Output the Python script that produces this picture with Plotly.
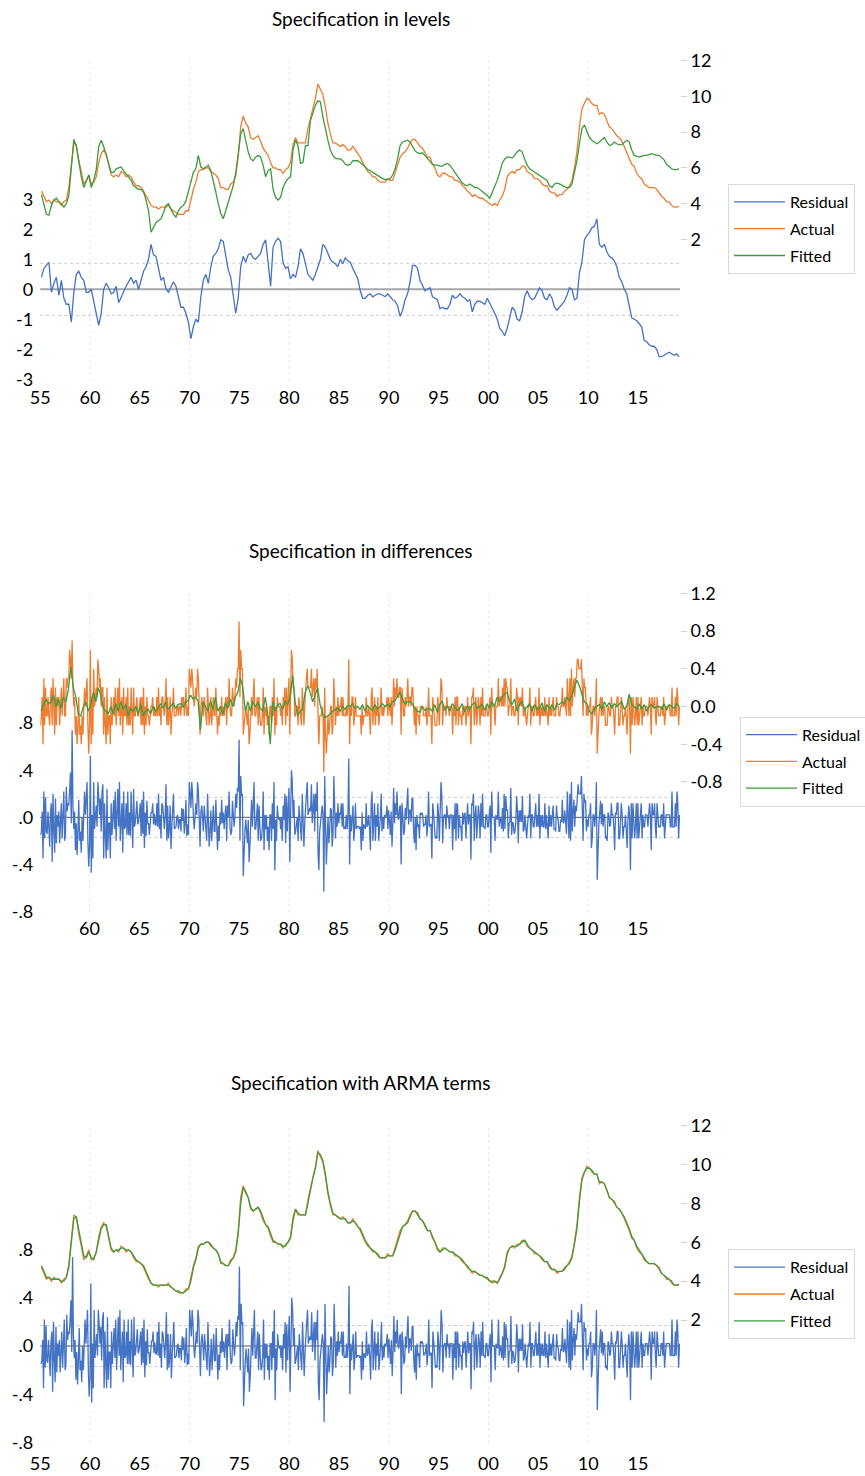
import plotly.graph_objects as go

FONT = "Lato, 'Noto Sans', sans-serif"
BLUE, ORANGE, GREEN = "#4472C4", "#ED7D31", "#3C9B3C"

# ---------------- time axes ----------------
years = list(range(1955, 2020))
quarter_mid = [0.125, 0.375, 0.625, 0.875]
periods_q = [y + m for y in years for m in quarter_mid][:257]          # 1955Q1 .. 2019Q1
months = [y + m / 12 for y in years for m in range(12)]                 # 1955M01 .. 2019M12

xtick_vals = list(range(1955, 2016, 5))
xtick_text = ["55", "60", "65", "70", "75", "80", "85", "90", "95", "00", "05", "10", "15"]
grid_years = [1960, 1970, 1980, 1990, 2000, 2010]

lev_left_ticks = [-3, -2, -1, 0, 1, 2, 3]
lev_right_ticks = [2, 4, 6, 8, 10, 12]
small_left_ticks = [-0.8, -0.4, 0.0, 0.4, 0.8]
small_left_text = ["-.8", "-.4", ".0", ".4", ".8"]
dif_right_ticks = [-0.8, -0.4, 0.0, 0.4, 0.8, 1.2]
dif_right_text = ["-0.8", "-0.4", "0.0", "0.4", "0.8", "1.2"]

se_levels = 0.87
se_diff = 0.17
se_arma = 0.17

# ---------------- quarterly level series ----------------
actual = [
    4.7, 4.4, 4.1, 4.2, 4.0, 4.2, 4.1, 4.1, 3.9, 4.1, 4.2, 4.9, 6.3, 7.4, 7.3, 6.4, 5.8, 5.1, 5.3, 5.6,
    5.1, 5.2, 5.5, 6.3, 6.8, 7.0, 6.8, 6.2, 5.6, 5.5, 5.6, 5.5, 5.8, 5.7, 5.5, 5.6, 5.5, 5.2, 5.0, 5.0,
    4.9, 4.7, 4.4, 4.1, 3.9, 3.8, 3.8, 3.7, 3.8, 3.8, 3.8, 3.9, 3.7, 3.6, 3.5, 3.4, 3.4, 3.4, 3.6, 3.6,
    4.2, 4.8, 5.2, 5.8, 5.9, 5.9, 6.0, 6.0, 5.8, 5.7, 5.6, 5.4, 4.9, 4.9, 4.8, 4.8, 5.1, 5.2, 5.6, 6.6,
    8.3, 8.9, 8.5, 8.3, 7.7, 7.6, 7.7, 7.8, 7.5, 7.1, 6.9, 6.7, 6.3, 6.0, 6.0, 5.9, 5.9, 5.7, 5.9, 6.0,
    6.3, 7.3, 7.7, 7.4, 7.4, 7.4, 7.4, 8.2, 8.8, 9.4, 9.9, 10.7, 10.4, 10.1, 9.4, 8.5, 7.9, 7.4, 7.4, 7.3,
    7.2, 7.3, 7.2, 7.0, 7.0, 7.2, 7.0, 6.8, 6.6, 6.3, 6.0, 5.8, 5.7, 5.5, 5.5, 5.3, 5.2, 5.2, 5.2, 5.4,
    5.3, 5.3, 5.7, 6.1, 6.6, 6.8, 6.9, 7.1, 7.4, 7.6, 7.6, 7.4, 7.2, 7.1, 6.8, 6.6, 6.6, 6.2, 6.0, 5.6,
    5.5, 5.7, 5.7, 5.6, 5.5, 5.5, 5.3, 5.3, 5.2, 5.0, 4.9, 4.7, 4.6, 4.4, 4.5, 4.4, 4.3, 4.3, 4.2, 4.1,
    4.0, 3.9, 4.0, 3.9, 4.2, 4.4, 4.8, 5.5, 5.7, 5.8, 5.7, 5.9, 5.9, 6.1, 6.1, 5.8, 5.7, 5.6, 5.4, 5.4,
    5.3, 5.1, 5.0, 5.0, 4.7, 4.6, 4.6, 4.4, 4.5, 4.5, 4.7, 4.8, 5.0, 5.3, 6.0, 6.9, 8.3, 9.3, 9.6, 9.9,
    9.8, 9.6, 9.5, 9.5, 9.0, 9.1, 9.0, 8.6, 8.3, 8.2, 8.0, 7.8, 7.7, 7.5, 7.2, 6.9, 6.6, 6.2, 6.1, 5.7,
    5.5, 5.4, 5.1, 5.0, 4.9, 4.9, 4.9, 4.8, 4.6, 4.4, 4.3, 4.1, 4.1, 3.9, 3.8, 3.8, 3.85,
]

fitted_levels = [
    4.5, 3.9, 3.4, 3.35, 3.9, 4.2, 4.3, 4.1, 4.0, 3.8, 4.0, 4.45, 6.05, 7.6, 7.2, 6.2, 5.5, 4.9, 5.2, 5.6,
    4.9, 5.3, 5.9, 7.2, 7.55, 7.2, 6.7, 6.15, 5.75, 5.75, 5.95, 6.0, 6.05, 5.85, 5.65, 5.5, 5.3, 5.0, 4.9, 4.8,
    4.8, 4.65, 4.2, 3.6, 2.4, 2.7, 2.95, 3.05, 3.15, 3.5, 3.9, 4.0, 3.7, 3.4, 3.25, 3.6, 3.8, 3.9, 4.15, 4.65,
    5.3, 5.75, 5.95, 6.7, 6.05, 5.95, 6.05, 6.15, 5.85, 5.3, 4.65, 4.0, 3.45, 3.15, 3.6, 4.1, 4.55, 5.0, 5.7, 6.8,
    7.9, 8.2, 7.6, 6.9, 6.5, 6.4, 6.6, 6.7, 6.6, 6.15, 5.5, 5.85, 5.95, 4.8, 4.35, 4.2, 4.35, 4.9, 5.2, 5.4,
    5.5, 7.0, 7.55, 7.25, 6.25, 6.3, 7.25, 7.25, 8.65, 9.1, 9.5, 9.75, 9.7, 8.85, 8.1, 7.55, 7.0, 6.7, 6.55, 6.5,
    6.5, 6.4, 6.2, 6.15, 6.2, 6.4, 6.4, 6.4, 6.3, 6.2, 6.05, 5.9, 5.85, 5.75, 5.65, 5.6, 5.45, 5.4, 5.35, 5.35,
    5.4, 5.6, 5.95, 6.5, 7.25, 7.45, 7.5, 7.55, 7.45, 7.2, 6.95, 6.85, 6.8, 6.85, 6.7, 6.55, 6.4, 6.2, 6.15, 6.15,
    6.1, 6.1, 6.2, 6.25, 6.15, 5.95, 5.75, 5.6, 5.35, 5.15, 5.05, 5.0, 5.1, 5.0, 4.9, 4.9, 4.8, 4.65, 4.55, 4.45,
    4.3, 4.6, 4.9, 5.3, 5.75, 6.25, 6.5, 6.6, 6.6, 6.55, 6.7, 6.9, 7.0, 6.9, 6.5, 6.15, 5.95, 5.85, 5.75, 5.65,
    5.6, 5.5, 5.4, 5.3, 5.0, 4.9, 5.1, 5.15, 5.1, 5.0, 4.95, 4.9, 4.9, 5.1, 5.7, 6.4, 7.35, 8.2, 8.4, 8.0,
    7.7, 7.55, 7.45, 7.35, 7.45, 7.6, 7.7, 7.45, 7.25, 7.3, 7.45, 7.35, 7.3, 7.3, 7.45, 7.55, 7.45, 7.0, 6.7, 6.65,
    6.6, 6.65, 6.7, 6.7, 6.75, 6.8, 6.75, 6.7, 6.7, 6.6, 6.45, 6.2, 6.05, 5.95, 5.9, 5.9, 5.95,
]

residual_levels = [
    0.4, 0.7, 0.8, 0.9, -0.1, 0.2, 0.4, -0.2, 0.3, -0.3, -0.5, -0.5, -1.1, -0.1, 0.5, 0.6, 0.4, 0.3, -0.1, -0.1,
    0.0, -0.45, -0.8, -1.2, -0.8, 0.0, 0.2, 0.05, -0.15, -0.1, 0.1, -0.45, -0.25, -0.05, 0.1, 0.25, 0.4, 0.2, 0.3, 0.0,
    0.3, 0.6, 0.75, 1.0, 1.5, 1.15, 1.1, 0.7, 0.3, 0.4, 0.0, -0.1, 0.05, 0.25, 0.1, -0.3, -0.6, -0.6, -0.8, -1.1,
    -1.65, -1.25, -1.0, -1.1, -0.25, 0.3, 0.5, 0.2, 0.75, 1.1, 1.2, 1.35, 1.65, 1.6, 1.1, 0.65, 0.4, -0.25, -0.8, -0.3,
    0.75, 1.1, 0.9, 1.15, 1.2, 1.05, 1.0, 1.1, 1.2, 1.5, 1.65, 0.9, 0.1, 1.4, 1.6, 1.7, 1.6, 0.9, 0.7, 0.75,
    0.35, 0.5, 0.4, 0.75, 1.35, 1.2, 0.85, 0.5, 0.4, 0.3, 0.5, 0.75, 1.0, 1.5, 1.4, 1.2, 1.0, 0.9, 0.85, 0.75,
    1.0, 0.85, 1.05, 0.95, 0.9, 0.7, 0.55, 0.35, -0.05, -0.3, -0.3, -0.2, -0.15, -0.25, -0.2, -0.15, -0.15, -0.2, -0.25, -0.15,
    -0.25, -0.35, -0.4, -0.55, -0.9, -0.7, -0.35, -0.15, 0.25, 0.8, 0.8, 0.7, 0.3, 0.1, -0.05, 0.0, 0.05, -0.25, -0.3, -0.35,
    -0.65, -0.6, -0.65, -0.65, -0.5, -0.2, -0.3, -0.25, -0.15, -0.25, -0.3, -0.4, -0.35, -0.75, -0.5, -0.4, -0.4, -0.45, -0.5, -0.3,
    -0.45, -0.6, -0.8, -1.0, -1.3, -1.4, -1.55, -1.3, -0.9, -0.6, -0.7, -1.0, -1.05, -0.75, -0.25, -0.05, -0.25, -0.35, -0.3, -0.15,
    0.05, -0.05, -0.3, -0.35, -0.15, -0.3, -0.6, -0.7, -0.6, -0.5, -0.4, -0.2, 0.05, 0.0, -0.35, -0.3, 0.55, 0.9, 1.65, 1.8,
    1.9, 2.05, 2.1, 2.35, 1.5, 1.4, 1.5, 1.25, 1.1, 1.05, 0.95, 0.75, 0.4, 0.25, 0.0, -0.15, -0.6, -0.95, -1.0, -1.05,
    -1.15, -1.25, -1.7, -1.75, -1.85, -1.9, -1.9, -2.0, -2.25, -2.25, -2.2, -2.15, -2.1, -2.15, -2.2, -2.15, -2.25,
]

fitted_arma = [
    4.8, 4.5, 4.2, 4.2, 4.1, 4.1, 4.1, 4.1, 4.0, 4.0, 4.2, 4.7, 6.0, 7.2, 7.3, 6.6, 5.9, 5.3, 5.2, 5.5,
    5.2, 5.1, 5.5, 6.1, 6.7, 6.9, 6.9, 6.3, 5.7, 5.5, 5.6, 5.6, 5.7, 5.7, 5.6, 5.6, 5.5, 5.3, 5.1, 5.0,
    4.9, 4.8, 4.5, 4.2, 3.9, 3.8, 3.8, 3.8, 3.8, 3.8, 3.8, 3.8, 3.7, 3.6, 3.5, 3.5, 3.4, 3.4, 3.5, 3.6,
    4.0, 4.7, 5.1, 5.7, 5.9, 5.9, 6.0, 6.0, 5.9, 5.7, 5.6, 5.4, 5.0, 4.9, 4.8, 4.8, 5.0, 5.2, 5.5, 6.4,
    8.0, 8.8, 8.6, 8.3, 7.8, 7.6, 7.7, 7.8, 7.6, 7.2, 6.9, 6.8, 6.4, 6.1, 6.0, 5.9, 5.9, 5.8, 5.8, 6.0,
    6.2, 7.1, 7.7, 7.5, 7.4, 7.4, 7.4, 8.0, 8.7, 9.3, 9.8, 10.6, 10.5, 10.2, 9.5, 8.6, 8.0, 7.5, 7.4, 7.3,
    7.2, 7.2, 7.2, 7.0, 7.0, 7.1, 7.0, 6.8, 6.7, 6.4, 6.1, 5.9, 5.7, 5.6, 5.5, 5.4, 5.2, 5.2, 5.2, 5.3,
    5.3, 5.3, 5.6, 6.0, 6.5, 6.8, 6.9, 7.0, 7.3, 7.6, 7.6, 7.5, 7.2, 7.1, 6.9, 6.6, 6.6, 6.3, 6.0, 5.7,
    5.5, 5.6, 5.7, 5.6, 5.5, 5.5, 5.4, 5.3, 5.2, 5.1, 4.9, 4.8, 4.6, 4.5, 4.5, 4.4, 4.3, 4.3, 4.2, 4.2,
    4.0, 4.0, 4.0, 3.9, 4.1, 4.4, 4.7, 5.4, 5.7, 5.8, 5.8, 5.8, 5.9, 6.0, 6.1, 5.9, 5.7, 5.6, 5.5, 5.4,
    5.3, 5.2, 5.0, 5.0, 4.8, 4.6, 4.6, 4.5, 4.5, 4.5, 4.6, 4.8, 4.9, 5.2, 5.9, 6.7, 8.1, 9.2, 9.6, 9.8,
    9.8, 9.7, 9.5, 9.5, 9.1, 9.1, 9.0, 8.7, 8.3, 8.2, 8.1, 7.8, 7.7, 7.5, 7.3, 7.0, 6.7, 6.3, 6.1, 5.8,
    5.6, 5.4, 5.2, 5.0, 4.9, 4.9, 4.9, 4.8, 4.7, 4.4, 4.3, 4.2, 4.1, 4.0, 3.8, 3.8, 3.8,
]

# ---------------- differences (monthly actual & residual, quarterly fitted) ----------------
actual_diff = [
    -0.2, -0.1, 0.1, -0.4, 0.3, -0.2, 0.2, -0.1, -0.1, 0.1, -0.1,                 # 1955 (Feb-Dec)
    -0.2, 0.1, 0.2, -0.2, 0.3, 0.0, -0.3, 0.2, -0.2, 0.1, 0.0, 0.1,               # 1956
    -0.2, 0.0, 0.2, -0.1, 0.1, 0.3, -0.1, -0.1, 0.3, 0.2, 0.3, 0.3,
    0.6, 0.5, 0.3, 0.7, 0.2, 0.0, 0.1, -0.3, -0.1, -0.4, -0.2, 0.1,
    -0.3, -0.2, -0.4, -0.1, -0.3, -0.1, 0.2, 0.0, 0.2, 0.3, -0.2, -0.5,
    -0.2, 0.6, -0.4, 0.1, -0.3, 0.4, 0.0, 0.1, 0.2, 0.1, 0.5, 0.4,               # 1960
    0.2, 0.3, 0.0, 0.2, 0.2, -0.3, 0.1, -0.2, -0.4, 0.2, -0.3, -0.1,
    -0.1, -0.4, 0.1, -0.2, 0.0, 0.1, -0.1, 0.2, -0.2, 0.0, 0.2, -0.1,
    0.3, -0.2, 0.0, 0.1, -0.3, 0.2, -0.1, -0.1, 0.1, -0.2, 0.2, -0.2,
    0.0, -0.2, 0.2, -0.1, -0.3, 0.2, -0.1, -0.1, 0.0, 0.1, -0.1, -0.1,
    0.0, 0.1, -0.2, 0.1, -0.2, 0.2, -0.3, 0.0, -0.2, 0.1, -0.1, -0.1,            # 1965
    -0.2, -0.1, 0.0, 0.0, 0.1, -0.1, 0.0, -0.1, -0.1, 0.1, -0.1, 0.2,
    -0.1, 0.0, -0.2, 0.1, 0.1, 0.0, -0.1, 0.0, 0.3, -0.2, 0.1, -0.2,
    -0.1, 0.1, -0.3, -0.1, 0.0, 0.2, -0.1, -0.1, -0.1, 0.0, 0.0, -0.1,
    0.0, 0.0, -0.1, 0.1, 0.0, 0.1, -0.1, 0.0, 0.2, -0.1, 0.0, -0.1,
    0.4, 0.3, 0.2, 0.4, 0.3, 0.1, 0.0, 0.1, 0.2, 0.1, 0.4, 0.3,                   # 1970
    -0.1, -0.3, 0.0, 0.1, 0.0, -0.1, 0.1, 0.0, -0.1, -0.2, 0.2, 0.0,
    -0.2, -0.1, 0.1, -0.2, 0.0, 0.1, -0.1, -0.1, 0.2, -0.1, -0.3, -0.1,
    -0.2, 0.0, -0.1, 0.1, -0.1, 0.0, -0.1, 0.0, 0.1, -0.2, 0.1, 0.0,
    0.3, 0.0, -0.1, -0.1, 0.2, 0.1, 0.0, 0.1, 0.3, 0.2, 0.4, 0.4,
    0.9, 0.1, 0.6, 0.4, 0.4, -0.3, -0.2, -0.1, 0.0, -0.1, -0.2, 0.0,             # 1975
    -0.4, -0.3, -0.1, 0.1, -0.1, 0.1, 0.3, -0.1, -0.1, 0.0, 0.1, -0.2,
    0.1, -0.1, -0.2, -0.2, -0.1, 0.2, -0.3, 0.0, -0.1, 0.0, -0.2, -0.1,
    -0.3, 0.0, 0.0, -0.2, 0.1, -0.1, 0.3, -0.3, 0.0, -0.2, 0.1, 0.0,
    0.0, 0.0, -0.1, 0.0, -0.2, 0.1, 0.0, 0.2, -0.2, 0.2, -0.1, 0.1,
    0.3, -0.3, 0.1, 0.6, 0.5, 0.2, 0.2, -0.1, -0.1, 0.0, 0.0, -0.2,              # 1980
    0.1, 0.0, -0.1, -0.2, 0.2, -0.1, -0.2, 0.0, 0.2, 0.3, 0.4, 0.2,
    0.2, 0.2, 0.2, 0.4, 0.1, 0.2, 0.3, 0.0, 0.3, 0.2, 0.4, -0.1,
    -0.4, -0.1, -0.1, -0.1, 0.0, -0.1, -0.7, 0.2, -0.3, -0.5, -0.3, -0.1,
    -0.3, -0.2, 0.0, 0.0, -0.3, -0.2, 0.3, 0.0, -0.2, 0.0, -0.1, 0.1,
    -0.1, 0.0, 0.0, 0.1, -0.1, 0.1, -0.1, -0.1, -0.1, 0.0, -0.1, 0.0,            # 1985
    0.5, -0.4, 0.0, -0.1, 0.1, 0.1, -0.2, -0.1, 0.1, -0.1, -0.1, -0.1,
    -0.1, -0.1, -0.1, -0.3, 0.0, -0.2, -0.1, -0.1, -0.1, 0.1, -0.1, -0.1,
    0.0, -0.1, -0.3, 0.1, 0.2, -0.2, 0.0, 0.1, -0.2, 0.0, -0.1, 0.1,
    -0.2, -0.1, 0.0, 0.2, -0.1, 0.0, -0.1, 0.0, 0.0, 0.0, 0.1, -0.1,
    0.1, 0.0, -0.1, 0.1, -0.2, 0.0, 0.3, 0.0, 0.2, 0.1, 0.3, 0.1,                 # 1990
    0.1, 0.2, 0.2, -0.3, 0.2, 0.1, -0.1, -0.1, 0.1, 0.0, 0.1, 0.3,
    0.0, 0.1, 0.1, 0.0, 0.2, 0.2, -0.1, -0.2, 0.0, -0.3, 0.0, -0.1,
    -0.1, -0.2, 0.0, 0.0, 0.0, 0.0, -0.1, -0.1, -0.1, 0.0, -0.2, -0.1,
    0.2, -0.1, -0.1, -0.1, -0.4, 0.1, 0.0, -0.1, -0.2, -0.2, -0.2, 0.1,
    0.0, -0.2, 0.0, 0.3, 0.2, -0.2, 0.0, 0.0, 0.0, -0.1, 0.1, 0.0,                # 1995
    0.0, -0.1, 0.0, 0.0, 0.0, -0.3, 0.0, -0.1, 0.1, -0.2, 0.1, 0.1,
    -0.2, 0.0, -0.1, -0.1, -0.2, 0.0, -0.1, 0.0, 0.0, -0.2, -0.1, 0.1,
    -0.1, 0.0, 0.0, -0.4, 0.1, 0.1, 0.2, -0.2, 0.0, 0.1, -0.2, 0.0,
    0.1, 0.0, -0.2, 0.1, -0.1, 0.2, -0.1, -0.1, -0.1, 0.0, 0.0, -0.1,
    -0.1, 0.0, 0.1, -0.3, 0.2, 0.0, 0.0, 0.0, -0.2, 0.0, 0.0, 0.0,               # 2000
    0.3, 0.0, 0.1, 0.1, 0.0, 0.2, 0.0, 0.3, 0.0, 0.3, 0.2, 0.2,
    -0.1, 0.0, 0.0, 0.3, -0.1, 0.0, 0.0, -0.1, -0.1, 0.0, 0.2, 0.1,
    -0.2, 0.1, 0.0, 0.1, 0.0, 0.2, -0.1, -0.1, 0.0, -0.1, -0.2, -0.1,
    0.0, 0.0, 0.2, -0.2, 0.0, 0.0, -0.1, -0.1, 0.0, 0.1, -0.1, 0.0,
    -0.1, 0.2, -0.2, 0.0, -0.1, 0.0, -0.1, -0.1, 0.1, -0.1, 0.0, -0.1,           # 2005
    -0.2, 0.1, -0.1, 0.0, -0.1, 0.0, 0.1, -0.1, -0.1, -0.1, 0.1, 0.0,
    0.0, -0.1, -0.1, 0.0, 0.0, 0.2, 0.0, 0.0, 0.1, 0.0, -0.1, 0.3,
    0.0, -0.1, 0.3, -0.1, 0.4, 0.0, 0.2, 0.3, 0.1, 0.3, 0.3, 0.5,
    0.5, 0.4, 0.4, 0.4, 0.5, 0.1, -0.1, 0.3, 0.2, 0.2, -0.1, 0.0,
    -0.1, 0.0, 0.0, 0.1, -0.3, -0.2, 0.0, 0.0, -0.1, 0.0, 0.3, -0.5,             # 2010
    -0.2, -0.1, 0.0, 0.1, -0.1, 0.1, -0.1, 0.0, 0.0, -0.2, -0.2, -0.2,
    0.0, 0.0, -0.1, -0.1, 0.1, 0.0, 0.0, -0.1, -0.3, 0.0, 0.0, 0.1,
    0.1, -0.2, -0.2, 0.0, 0.1, 0.0, -0.2, -0.1, -0.1, 0.0, -0.2, -0.3,
    0.0, 0.1, 0.0, -0.5, 0.1, -0.2, 0.1, -0.1, -0.2, -0.1, 0.1, -0.2,
    0.1, -0.2, -0.1, 0.0, 0.1, -0.2, 0.0, -0.1, -0.1, 0.0, 0.0, 0.0,             # 2015
    -0.1, 0.0, 0.1, 0.0, -0.3, 0.1, 0.0, 0.0, 0.1, -0.1, -0.2, 0.1,
    0.0, -0.1, -0.1, -0.1, 0.0, 0.0, -0.1, 0.1, -0.2, -0.1, 0.0, 0.0,
    0.0, 0.0, 0.0, -0.1, -0.1, 0.2, -0.1, -0.1, -0.1, 0.1, -0.1, 0.2,
    0.1, -0.2, 0.0,                                                               # 2019 (Jan-Mar)
]

residual_diff = [
    -0.15, -0.12, 0.05, -0.35, 0.22, -0.18, 0.17, -0.12, -0.14, 0.05, -0.08,      # 1955 (Feb-Dec)
    -0.25, 0.04, 0.12, -0.38, 0.2, -0.1, -0.3, 0.16, -0.22, 0.02, -0.08, 0.05,
    -0.22, -0.05, 0.12, -0.18, 0.02, 0.22, -0.2, -0.15, 0.26, 0.05, 0.12, 0.1,
    0.22, 0.38, -0.05, 0.74, 0.1, -0.1, 0.05, -0.28, -0.05, -0.32, -0.12, 0.15,
    -0.2, -0.12, -0.3, 0.0, -0.2, -0.05, 0.22, 0.02, 0.2, 0.3, -0.2, -0.42,
    -0.25, 0.52, -0.47, 0.02, -0.35, 0.3, -0.1, 0.0, 0.1, -0.08, 0.3, 0.18,      # 1960
    0.02, 0.16, -0.12, 0.22, 0.28, -0.35, 0.12, -0.15, -0.35, 0.24, -0.28, -0.05,
    -0.05, -0.35, 0.12, -0.15, 0.06, 0.15, -0.1, 0.22, -0.2, 0.04, 0.24, -0.08,
    0.3, -0.2, 0.02, 0.12, -0.3, 0.22, -0.1, -0.08, 0.12, -0.15, 0.22, -0.15,
    0.04, -0.16, 0.22, -0.06, -0.26, 0.24, -0.08, -0.05, 0.04, 0.14, -0.06, -0.04,
    0.04, 0.12, -0.16, 0.15, -0.14, 0.22, -0.26, 0.04, -0.16, 0.14, -0.06, -0.05,  # 1965
    -0.15, -0.06, 0.04, 0.04, 0.12, -0.06, 0.03, -0.06, -0.07, 0.12, -0.08, 0.2,
    -0.1, 0.02, -0.18, 0.12, 0.1, 0.01, -0.1, 0.02, 0.28, -0.2, 0.1, -0.18,
    -0.1, 0.1, -0.27, -0.08, 0.02, 0.2, -0.1, -0.09, -0.08, 0.0, 0.02, -0.1,
    -0.02, -0.02, -0.12, 0.08, -0.03, 0.07, -0.14, -0.05, 0.15, -0.16, -0.06, -0.15,
    0.3, 0.2, 0.08, 0.3, 0.2, 0.0, -0.1, 0.0, 0.12, 0.02, 0.3, 0.22,              # 1970
    -0.05, -0.25, 0.04, 0.1, 0.01, -0.12, 0.1, -0.02, -0.12, -0.2, 0.2, -0.02,
    -0.25, -0.12, 0.06, -0.2, 0.02, 0.1, -0.12, -0.12, 0.15, -0.08, -0.28, -0.07,
    -0.2, 0.04, -0.06, 0.15, -0.05, 0.04, -0.1, 0.02, 0.1, -0.2, 0.1, 0.0,
    0.22, -0.08, -0.15, -0.12, 0.14, 0.02, -0.08, 0.02, 0.2, 0.08, 0.25, 0.22,
    0.66, -0.2, 0.35, 0.18, 0.2, -0.5, -0.25, -0.12, -0.02, -0.1, -0.22, -0.02,  # 1975
    -0.38, -0.25, -0.05, 0.15, -0.08, 0.12, 0.3, -0.1, -0.1, 0.0, 0.12, -0.2,
    0.1, -0.08, -0.2, -0.18, -0.08, 0.22, -0.28, 0.02, -0.1, 0.02, -0.2, -0.08,
    -0.28, 0.02, 0.02, -0.2, 0.12, -0.1, 0.3, -0.45, -0.02, -0.2, 0.1, 0.0,
    -0.02, 0.0, -0.1, 0.0, -0.2, 0.1, -0.02, 0.2, -0.22, 0.18, -0.12, 0.08,
    0.25, -0.38, 0.05, 0.4, 0.3, 0.0, 0.15, -0.15, -0.12, -0.02, 0.0, -0.2,      # 1980
    0.1, 0.0, -0.1, -0.2, 0.2, -0.12, -0.25, -0.05, 0.12, 0.2, 0.3, 0.02,
    0.05, 0.08, 0.05, 0.28, -0.05, 0.08, 0.2, -0.12, 0.2, 0.05, 0.3, -0.3,
    -0.45, -0.12, -0.05, -0.02, 0.1, 0.02, -0.63, 0.35, -0.2, -0.4, -0.2, 0.0,
    -0.22, -0.12, 0.08, 0.06, -0.25, -0.15, 0.35, 0.05, -0.18, 0.04, -0.08, 0.12,
    -0.05, 0.04, 0.02, 0.12, -0.08, 0.12, -0.1, -0.08, -0.1, 0.02, -0.1, 0.02,   # 1985
    0.5, -0.4, 0.02, -0.12, 0.08, 0.1, -0.2, -0.1, 0.12, -0.1, -0.08, -0.08,
    -0.08, -0.1, -0.08, -0.28, 0.04, -0.2, -0.06, -0.08, -0.1, 0.12, -0.08, -0.06,
    0.02, -0.1, -0.28, 0.12, 0.22, -0.2, 0.04, 0.12, -0.2, 0.02, -0.08, 0.12,
    -0.2, -0.1, 0.0, 0.2, -0.12, 0.0, -0.1, 0.02, 0.0, 0.02, 0.1, -0.1,
    0.06, -0.04, -0.15, 0.05, -0.25, -0.05, 0.25, -0.05, 0.12, 0.02, 0.22, 0.0,  # 1990
    -0.02, 0.08, 0.1, -0.4, 0.12, 0.02, -0.15, -0.12, 0.08, -0.02, 0.08, 0.25,
    -0.06, 0.06, 0.06, -0.04, 0.16, 0.16, -0.12, -0.22, 0.0, -0.28, 0.02, -0.08,
    -0.06, -0.18, 0.04, 0.02, 0.04, 0.02, -0.08, -0.06, -0.06, 0.02, -0.16, -0.06,
    0.22, -0.08, -0.06, -0.06, -0.35, 0.12, 0.04, -0.06, -0.18, -0.16, -0.18, 0.12,
    0.02, -0.2, 0.02, 0.3, 0.18, -0.22, 0.0, 0.02, 0.02, -0.1, 0.1, 0.0,          # 1995
    0.02, -0.1, 0.02, 0.02, 0.02, -0.28, 0.02, -0.1, 0.12, -0.2, 0.12, 0.1,
    -0.18, 0.02, -0.08, -0.08, -0.2, 0.04, -0.06, 0.02, 0.04, -0.18, -0.06, 0.12,
    -0.06, 0.02, 0.02, -0.36, 0.12, 0.1, 0.2, -0.2, 0.02, 0.1, -0.18, 0.02,
    0.1, 0.02, -0.18, 0.12, -0.08, 0.2, -0.08, -0.08, -0.1, 0.02, 0.02, -0.08,
    -0.08, 0.02, 0.1, -0.3, 0.22, 0.0, 0.0, 0.0, -0.2, 0.02, 0.0, -0.02,          # 2000
    0.22, -0.08, 0.0, -0.02, -0.1, 0.08, -0.12, 0.2, -0.1, 0.18, 0.06, 0.06,
    -0.18, -0.05, -0.04, 0.25, -0.15, -0.04, -0.05, -0.14, -0.12, -0.04, 0.18, 0.06,
    -0.22, 0.06, -0.04, 0.06, -0.04, 0.18, -0.12, -0.1, 0.02, -0.1, -0.18, -0.08,
    0.02, 0.0, 0.2, -0.18, 0.02, 0.02, -0.08, -0.08, 0.02, 0.12, -0.08, 0.02,
    -0.08, 0.2, -0.18, 0.02, -0.08, 0.02, -0.08, -0.08, 0.12, -0.1, 0.02, -0.08,  # 2005
    -0.18, 0.1, -0.08, 0.02, -0.08, 0.02, 0.1, -0.1, -0.1, -0.12, 0.1, 0.0,
    -0.02, -0.12, -0.12, -0.02, -0.04, 0.15, -0.05, -0.04, 0.06, -0.04, -0.14, 0.22,
    -0.06, -0.18, 0.2, -0.2, 0.3, -0.12, 0.05, 0.15, -0.08, 0.1, 0.05, 0.25,
    0.28, 0.2, 0.2, 0.2, 0.35, -0.05, -0.2, 0.2, 0.12, 0.15, -0.12, -0.02,
    -0.08, 0.02, 0.02, 0.12, -0.26, -0.18, 0.02, 0.02, -0.08, 0.02, 0.3, -0.53,  # 2010
    -0.18, -0.06, 0.04, 0.14, -0.06, 0.12, -0.08, 0.02, 0.02, -0.18, -0.16, -0.2,
    0.04, 0.02, -0.08, -0.06, 0.12, 0.02, 0.02, -0.08, -0.28, 0.04, 0.02, 0.12,
    0.12, -0.18, -0.18, 0.04, 0.12, 0.02, -0.18, -0.08, -0.08, 0.02, -0.18, -0.26,
    -0.02, 0.1, 0.0, -0.45, 0.12, -0.18, 0.12, -0.08, -0.18, -0.08, 0.12, -0.18,
    0.12, -0.18, -0.08, 0.02, 0.12, -0.18, 0.02, -0.08, -0.08, 0.02, 0.02, 0.02,  # 2015
    -0.08, 0.02, 0.12, 0.02, -0.28, 0.12, 0.02, 0.02, 0.12, -0.08, -0.18, 0.12,
    0.02, -0.08, -0.08, -0.08, 0.02, 0.02, -0.08, 0.12, -0.18, -0.08, 0.02, 0.02,
    0.02, 0.02, 0.02, -0.08, -0.08, 0.22, -0.08, -0.08, -0.08, 0.12, -0.08, 0.22,
    0.12, -0.18, 0.02,                                                            # 2019 (Jan-Mar)
]

fitted_diff = [
    -0.05, 0.02, 0.08, 0.03, 0.05, 0.12, 0.0, 0.08, -0.02, 0.1, 0.05, 0.18, 0.42, 0.2, 0.1, -0.08, -0.1, 0.0, 0.05, -0.05,
    0.02, 0.15, 0.05, 0.2, 0.12, -0.02, -0.05, -0.08, 0.0, -0.08, 0.03, -0.05, 0.05, -0.03, 0.02, -0.1, -0.02, -0.05, 0.0, -0.08,
    0.02, -0.1, -0.05, -0.03, -0.08, 0.0, -0.05, -0.02, 0.03, -0.02, 0.05, -0.03, 0.0, 0.04, -0.02, 0.02, 0.03, -0.01, 0.05, 0.06,
    0.12, 0.08, 0.1, 0.06, -0.25, 0.05, 0.0, -0.05, 0.06, -0.03, 0.1, -0.05, 0.0, -0.08, 0.04, -0.02, 0.08, 0.0, 0.1, 0.15,
    0.3, 0.2, -0.05, 0.05, -0.05, 0.05, 0.0, 0.04, -0.02, -0.05, 0.1, -0.08, -0.4, 0.05, -0.05, 0.02, 0.03, -0.03, 0.06, 0.02,
    0.1, 0.33, 0.05, -0.1, -0.05, -0.03, 0.15, 0.22, 0.15, 0.05, 0.12, 0.2, 0.02, -0.08, -0.12, -0.1, -0.08, -0.05, -0.03, -0.02,
    -0.05, 0.0, -0.03, 0.01, 0.0, 0.03, -0.02, 0.0, -0.03, 0.02, -0.05, 0.01, -0.02, -0.04, 0.02, -0.03, 0.0, 0.03, 0.0, 0.02,
    0.0, 0.05, 0.06, 0.1, 0.15, 0.08, 0.03, 0.05, 0.05, 0.03, -0.02, -0.05, -0.06, 0.0, -0.04, -0.03, -0.02, -0.05, 0.02, -0.06,
    0.02, 0.06, -0.04, 0.0, -0.05, 0.03, 0.0, -0.04, -0.02, 0.03, -0.06, 0.0, -0.03, 0.02, 0.04, -0.02, 0.0, 0.02, -0.04, 0.03,
    -0.02, 0.05, 0.0, 0.1, 0.05, 0.1, 0.13, 0.15, 0.06, 0.02, 0.08, -0.05, 0.02, 0.06, -0.04, 0.0, 0.03, -0.05, 0.02, -0.03,
    -0.02, 0.04, -0.05, 0.02, -0.03, 0.02, -0.04, 0.03, 0.02, 0.05, 0.03, 0.1, 0.06, 0.12, 0.2, 0.28, 0.22, 0.12, 0.05, 0.03,
    -0.05, -0.08, -0.02, 0.0, 0.02, -0.03, 0.05, 0.0, 0.04, -0.02, 0.03, 0.0, 0.02, 0.05, -0.03, 0.0, 0.13, 0.02, 0.0, -0.03,
    0.03, -0.03, 0.02, -0.05, 0.0, 0.02, -0.02, 0.0, 0.0, -0.03, 0.03, -0.04, 0.02, 0.0, -0.02, 0.03, 0.0,
]

periods_m = months[1:1 + len(actual_diff)]          # starts 1955M02
periods_r = months[1:1 + len(residual_diff)]

# ---------------- layout geometry ----------------
W, H = 865, 1476


def fx(px):
    return px / W


def fy(py):
    return 1 - py / H


X_DOM = [fx(40.2), fx(680)]
TICKFONT = dict(family=FONT, size=18, color="#000000")

fig = go.Figure()

panel_defs = [
    dict(title="Specification in levels", ty=18, top=60, bot=381, xr=[1955.0, 2019.22],
         lr=[-3.06, 7.65], rr=[-5.93, 12.04], lt=lev_left_ticks, ltt=[str(v) for v in lev_left_ticks],
         rt=lev_right_ticks, rtt=[str(v) for v in lev_right_ticks],
         res=(periods_q, residual_levels), act=(periods_q, actual), fit=(periods_q, fitted_levels),
         se=se_levels, zc="#A6A6A6", zw=2, leg=(728, 184), xs=4),
    dict(title="Specification in differences", ty=550, top=593, bot=913, xr=[1955.05, 2019.22],
         lr=[-0.813, 1.906], rr=[-2.19, 1.2035], lt=small_left_ticks, ltt=small_left_text,
         rt=dif_right_ticks, rtt=dif_right_text,
         res=(periods_r, residual_diff), act=(periods_m, actual_diff), fit=(periods_q, fitted_diff),
         se=se_diff, zc="#595959", zw=1, leg=(740, 716.7), xs=3),
    dict(title="Specification with ARMA terms", ty=1082, top=1125, bot=1443, xr=[1955.0, 2019.22],
         lr=[-0.805, 1.835], rr=[-4.31, 12.02], lt=small_left_ticks, ltt=small_left_text,
         rt=lev_right_ticks, rtt=[str(v) for v in lev_right_ticks],
         res=(periods_r, residual_diff), act=(periods_q, actual), fit=(periods_q, fitted_arma),
         se=se_arma, zc="#595959", zw=1, leg=(728, 1249.3), xs=8),
]

shapes = []
annotations = []
layout_axes = {}

for i, p in enumerate(panel_defs):
    n = i + 1
    xa = "x" if n == 1 else f"x{n}"
    yl = "y" if n == 1 else f"y{2 * n - 1}"
    yr = f"y{2 * n}"
    leg = "legend" if n == 1 else f"legend{n}"
    xkey = "xaxis" if n == 1 else f"xaxis{n}"
    ylkey = "yaxis" if n == 1 else f"yaxis{2 * n - 1}"
    yrkey = f"yaxis{2 * n}"

    fig.add_trace(go.Scatter(x=p["res"][0], y=p["res"][1], name="Residual", mode="lines",
                             line=dict(color=BLUE, width=1.3), xaxis=xa, yaxis=yl,
                             legend=leg, legendgroup=f"r{n}"))
    fig.add_trace(go.Scatter(x=p["act"][0], y=p["act"][1], name="Actual", mode="lines",
                             line=dict(color=ORANGE, width=1.3), xaxis=xa, yaxis=yr,
                             legend=leg, legendgroup=f"a{n}"))
    fig.add_trace(go.Scatter(x=p["fit"][0], y=p["fit"][1], name="Fitted", mode="lines",
                             line=dict(color=GREEN, width=1.3), xaxis=xa, yaxis=yr,
                             legend=leg, legendgroup=f"f{n}"))

    ydom = [fy(p["bot"]), fy(p["top"])]
    layout_axes[xkey] = dict(domain=X_DOM, range=p["xr"], anchor=yl, tickmode="array",
                             tickvals=xtick_vals, ticktext=xtick_text, showgrid=False,
                             zeroline=False, showline=False, ticks="", tickfont=TICKFONT,
                             ticklabelstandoff=p["xs"], automargin=False)
    layout_axes[ylkey] = dict(domain=ydom, range=p["lr"], anchor=xa, tickmode="array",
                              tickvals=p["lt"], ticktext=p["ltt"], showgrid=False,
                              zeroline=False, showline=False, ticks="", tickfont=TICKFONT,
                              ticklabelstandoff=6, automargin=False)
    layout_axes[yrkey] = dict(overlaying=yl, side="right", range=p["rr"], anchor=xa,
                              tickmode="array", tickvals=p["rt"], ticktext=p["rtt"],
                              showgrid=False, zeroline=False, showline=False,
                              ticks="outside", ticklen=6, tickcolor="#D0D0D0",
                              tickfont=TICKFONT, ticklabelstandoff=0, automargin=False)

    for g in grid_years:
        shapes.append(dict(type="line", xref=xa, yref=f"{yl} domain", x0=g, x1=g, y0=0, y1=1,
                           line=dict(color="#E8E8E8", width=1, dash="dot"), layer="below"))
    shapes.append(dict(type="line", xref=f"{xa} domain", yref=yl, x0=0, x1=1, y0=0, y1=0,
                       line=dict(color=p["zc"], width=p["zw"]), layer="below"))
    for s in (p["se"], -p["se"]):
        shapes.append(dict(type="line", xref=f"{xa} domain", yref=yl, x0=0, x1=1, y0=s, y1=s,
                           line=dict(color="#C8C8C8", width=1, dash="dot"), layer="below"))

    annotations.append(dict(text=p["title"], xref="paper", yref="paper", x=fx(360.5), y=fy(p["ty"]),
                            xanchor="center", yanchor="middle", showarrow=False,
                            font=dict(family=FONT, size=19, color="#000000")))

    lx, ly = p["leg"]
    layout_axes[leg] = dict(x=fx(lx), y=fy(ly), xanchor="left", yanchor="top",
                            bordercolor="#D9D9D9", borderwidth=1, bgcolor="#FFFFFF",
                            font=dict(family=FONT, size=16, color="#000000"),
                            itemwidth=51, tracegroupgap=3, traceorder="grouped")

fig.update_layout(
    width=W, height=H, margin=dict(l=0, r=0, t=0, b=0, autoexpand=False),
    paper_bgcolor="#FFFFFF", plot_bgcolor="#FFFFFF",
    font=dict(family=FONT, color="#000000"),
    shapes=shapes, annotations=annotations, showlegend=True,
    **layout_axes,
)

# the page body has a default 8px margin; remove it so the figure sits at the window origin
fig.write_html("out.html", config={"displayModeBar": False},
               post_script="document.body.style.margin='0';document.body.style.overflow='hidden';")
